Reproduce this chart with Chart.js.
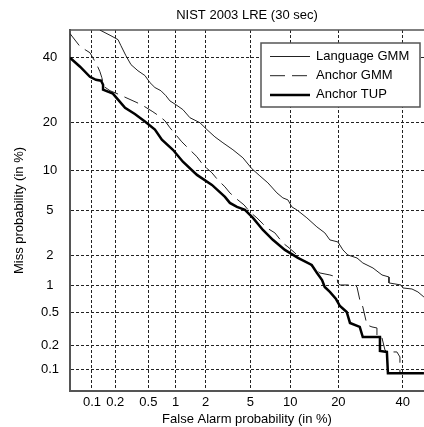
<!DOCTYPE html>
<html>
<head>
<meta charset="utf-8">
<script src="https://cdn.jsdelivr.net/npm/chart.js@4.4.1/dist/chart.umd.min.js"></script>
<style>
    html, body { margin: 0; padding: 0; background: #fff; overflow: hidden; }
    .chart-box { position: relative; width: 424px; height: 427px; }
</style>
</head>
<body>
<div class="chart-box"><canvas id="detChart"></canvas></div>
<script>
// Valeurs en %
const tickPct = [0.1, 0.2, 0.5, 1, 2, 5, 10, 20, 40];
const faRange = [0.05, 47.6];
const missRange = [0.05, 50];

const langFa = [0.127, 0.177, 0.217, 0.236, 0.272, 0.313, 0.379, 0.457, 0.521, 0.594, 0.693, 0.786, 0.869, 1.006, 1.19, 1.404, 1.765, 2.061, 2.452, 2.905, 3.563, 4.34, 5.147, 5.963, 6.88, 8.04, 8.88, 9.65, 10.28, 11.12, 12.95, 14.97, 16.73, 17.9, 19.87, 21.18, 22.51, 25.09, 26.82, 29.95, 32.87, 35.2, 35.2, 39.33, 40.04, 43.24, 45.4, 47.57];
const langMiss = [50, 47.9, 46.5, 44.3, 40.7, 37.6, 35.5, 33.9, 31.6, 30.0, 29.0, 27.45, 25.9, 24.8, 23.4, 21.2, 19.9, 18.2, 16.5, 15.2, 13.75, 12.2, 10.3, 9.18, 8.18, 6.88, 6.30, 6.07, 5.34, 5.05, 4.34, 3.635, 3.22, 2.785, 2.67, 2.25, 2.015, 1.886, 1.686, 1.503, 1.278, 1.218, 1.057, 1.006, 0.935, 0.912, 0.848, 0.747];

const gmmFa = [0.05, 0.069, 0.094, 0.116, 0.1275, 0.135, 0.144, 0.172, 0.211, 0.288, 0.369, 0.457, 0.564, 0.675, 0.767, 0.869, 1.03, 1.16, 1.40, 1.65, 1.89, 2.30, 2.61, 3.03, 3.35, 3.93, 4.43, 4.96, 5.65, 6.30, 6.76, 7.77, 8.88, 9.65, 10.78, 12.01, 12.95, 14.14, 15.62, 17.9, 19.62, 19.87, 20.38, 24.5, 25.09, 25.92, 26.82, 28.07, 29.64, 31.22, 31.22, 32.87, 33.85, 34.5, 37.93, 38.98, 38.98, 47.57];
const gmmMiss = [48.7, 44.0, 41.8, 37.6, 35.2, 33.2, 30.3, 29.0, 28.1, 26.6, 25.4, 24.2, 22.8, 21.5, 20.4, 18.65, 16.7, 15.4, 13.75, 12.4, 10.95, 9.65, 8.59, 7.64, 6.88, 6.07, 5.55, 4.86, 4.34, 3.86, 3.56, 3.22, 2.61, 2.40, 2.11, 1.805, 1.725, 1.538, 1.339, 1.278, 1.218, 1.057, 1.006, 1.006, 0.958, 0.693, 0.579, 0.359, 0.340, 0.3305, 0.256, 0.250, 0.177, 0.167, 0.167, 0.144, 0.088, 0.088];

const tupFa = [0.05, 0.069, 0.094, 0.113, 0.132, 0.140, 0.140, 0.187, 0.217, 0.265, 0.348, 0.457, 0.594, 0.710, 0.935, 1.19, 1.65, 2.30, 3.03, 3.35, 3.86, 4.51, 5.25, 6.30, 7.50, 9.18, 11.3, 13.9, 15.0, 16.1, 16.7, 17.9, 19.4, 20.4, 22.2, 23.1, 25.9, 26.8, 32.2, 32.2, 34.5, 34.85, 47.57];
const tupMiss = [40.0, 36.9, 33.5, 32.5, 32.2, 30.9, 29.3, 28.1, 26.3, 23.9, 22.2, 20.2, 18.2, 15.85, 13.75, 11.5, 9.33, 7.90, 6.41, 5.75, 5.34, 5.05, 4.34, 3.42, 2.79, 2.25, 1.89, 1.61, 1.34, 1.13, 0.958, 0.848, 0.710, 0.594, 0.508, 0.379, 0.340, 0.256, 0.256, 0.172, 0.167, 0.088, 0.088];

// inverse de la loi normale (Acklam)
function probit(p) {
    const a = [-39.69683028665376, 220.9460984245205, -275.9285104469687, 138.3577518672690, -30.66479806614716, 2.506628277459239];
    const b = [-54.47609879822406, 161.5858368580409, -155.6989798598866, 66.80131188771972, -13.28068155288572];
    const c = [-0.007784894002430293, -0.3223964580411365, -2.400758277161838, -2.549671348283755, 4.374664141464968, 2.938163982698783];
    const d = [0.007784695709041462, 0.3224671290700398, 2.445134137142996, 3.754408661907416];
    const lo = 0.02425;
    if (p < lo) {
        const q = Math.sqrt(-2 * Math.log(p));
        return (((((c[0] * q + c[1]) * q + c[2]) * q + c[3]) * q + c[4]) * q + c[5]) / ((((d[0] * q + d[1]) * q + d[2]) * q + d[3]) * q + 1);
    }
    if (p <= 1 - lo) {
        const q = p - 0.5, r = q * q;
        return (((((a[0] * r + a[1]) * r + a[2]) * r + a[3]) * r + a[4]) * r + a[5]) * q / (((((b[0] * r + b[1]) * r + b[2]) * r + b[3]) * r + b[4]) * r + 1);
    }
    const q = Math.sqrt(-2 * Math.log(1 - p));
    return -(((((c[0] * q + c[1]) * q + c[2]) * q + c[3]) * q + c[4]) * q + c[5]) / ((((d[0] * q + d[1]) * q + d[2]) * q + d[3]) * q + 1);
}

const toPoints = (fa, miss) => fa.map((v, i) => ({ x: probit(v / 100), y: probit(miss[i] / 100) }));
const pctTicks = scale => { scale.ticks = tickPct.map(p => ({ value: probit(p / 100) })); };

const FONT = '"Liberation Sans", Arial, sans-serif';
Chart.defaults.font.family = FONT;
Chart.defaults.font.size = 13;
Chart.defaults.color = '#000';

// légende encadrée en haut à droite
const boxLegend = {
    id: 'boxLegend',
    afterDatasetsDraw(chart) {
        const { ctx, chartArea } = chart;
        const x0 = chartArea.left + 191, y0 = chartArea.top + 13, w = 159, h = 64;
        ctx.save();
        ctx.fillStyle = '#fff';
        ctx.fillRect(x0, y0, w, h);
        ctx.strokeStyle = '#555';
        ctx.lineWidth = 1.5;
        ctx.strokeRect(x0, y0, w, h);
        ctx.font = '13px ' + FONT;
        ctx.textBaseline = 'middle';
        chart.data.datasets.forEach((ds, i) => {
            const y = y0 + 13.5 + i * 19.2;
            ctx.beginPath();
            ctx.setLineDash(ds.borderDash || []);
            ctx.lineWidth = ds.borderWidth;
            ctx.strokeStyle = ds.borderColor;
            ctx.moveTo(x0 + 9, y);
            ctx.lineTo(x0 + 49, y);
            ctx.stroke();
            ctx.setLineDash([]);
            ctx.fillStyle = '#000';
            ctx.fillText(ds.label, x0 + 55, y);
        });
        ctx.restore();
    }
};

// trait du haut du cadre
const topFrame = {
    id: 'topFrame',
    beforeDatasetsDraw(chart) {
        const { ctx, chartArea } = chart;
        ctx.save();
        ctx.strokeStyle = '#555';
        ctx.lineWidth = 1.5;
        ctx.beginPath();
        ctx.moveTo(chartArea.left, chartArea.top);
        ctx.lineTo(chartArea.right, chartArea.top);
        ctx.stroke();
        ctx.restore();
    }
};

const gridOpts = { color: '#222', lineWidth: 1, drawTicks: false };
const borderOpts = { display: true, color: '#555', width: 2, dash: [3, 2] };

new Chart(document.getElementById('detChart'), {
    type: 'scatter',
    data: {
        datasets: [
            { label: 'Language GMM', data: toPoints(langFa, langMiss), borderColor: '#222', borderWidth: 1, order: 3 },
            { label: 'Anchor GMM', data: toPoints(gmmFa, gmmMiss), borderColor: '#222', borderWidth: 1, borderDash: [15, 7], order: 2 },
            { label: 'Anchor TUP', data: toPoints(tupFa, tupMiss), borderColor: '#000', borderWidth: 2.5, order: 1 }
        ]
    },
    options: {
        responsive: true,
        maintainAspectRatio: false,
        animation: false,
        showLine: true,
        layout: { padding: 0 },
        elements: { point: { radius: 0, hoverRadius: 0 }, line: { tension: 0 } },
        plugins: {
            legend: { display: false },
            tooltip: { enabled: false },
            title: {
                display: true,
                text: 'NIST 2003 LRE (30 sec)',
                fullSize: false,
                font: { size: 13, weight: 'normal' },
                padding: { top: 8, bottom: 6.4 }
            }
        },
        scales: {
            x: {
                type: 'linear',
                min: probit(faRange[0] / 100),
                max: probit(faRange[1] / 100),
                afterBuildTicks: pctTicks,
                afterFit: s => { s.height = 36; },
                grid: gridOpts,
                border: borderOpts,
                ticks: {
                    autoSkip: false, maxRotation: 0, padding: 4,
                    callback: (v, i) => String(tickPct[i])
                },
                title: { display: true, text: 'False Alarm probability (in %)', padding: { top: 0, bottom: 0 } }
            },
            y: {
                type: 'linear',
                min: probit(missRange[0] / 100),
                max: probit(missRange[1] / 100),
                afterBuildTicks: pctTicks,
                afterFit: s => { s.width = 70; },
                grid: gridOpts,
                border: borderOpts,
                ticks: {
                    autoSkip: false, crossAlign: 'center', padding: 11,
                    callback: (v, i) => String(tickPct[i])
                },
                title: { display: true, text: 'Miss probability (in %)', padding: { top: 12, bottom: 0 } }
            }
        }
    },
    plugins: [topFrame, boxLegend]
});
</script>
</body>
</html>
